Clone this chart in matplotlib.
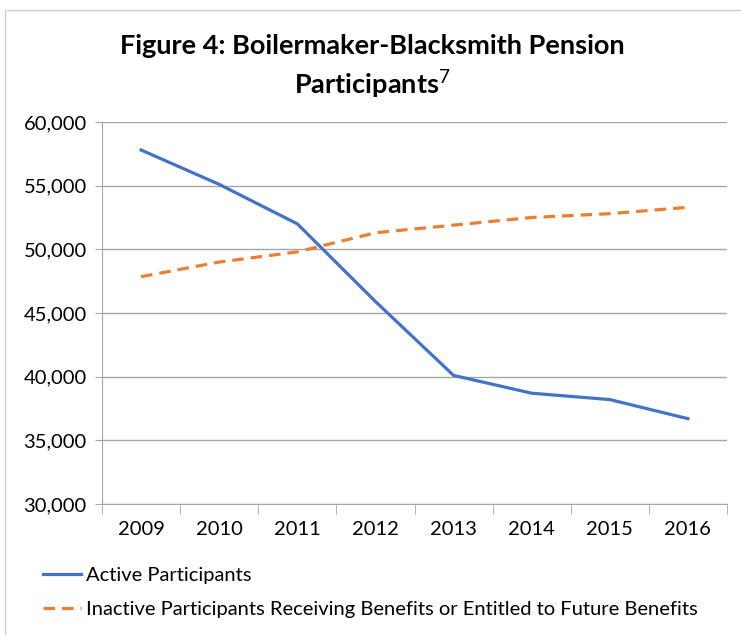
import numpy as np
import matplotlib.pyplot as plt
from matplotlib.patches import Rectangle

# Data
years = ["2009", "2010", "2011", "2012", "2013", "2014", "2015", "2016"]
active = [57800, 55100, 52000, 45900, 40100, 38700, 38200, 36700]
inactive = [47850, 49000, 49800, 51300, 51900, 52500, 52800, 53300]
yticks = [30000, 35000, 40000, 45000, 50000, 55000, 60000]

# Formatting
plt.rcParams["font.family"] = ["Lato", "DejaVu Sans"]
plt.rcParams["mathtext.fontset"] = "custom"
plt.rcParams["mathtext.rm"] = "Lato"

fig = plt.figure(figsize=(7.41, 6.35), dpi=100)
ax = fig.add_axes([0.1377, 0.2063, 0.8434, 0.6016])

x = np.arange(len(years))
ax.plot(x, active, color="#4472C4", lw=2.3, label="Active Participants")
ax.plot(x, inactive, color="#ED7D31", lw=2.3, ls=(0, (3.6, 2.2)),
        label="Inactive Participants Receiving Benefits or Entitled to Future Benefits")

ax.set_xlim(-0.5, len(years) - 0.5)
ax.set_ylim(30000, 60000)
ax.set_yticks(yticks)
ax.set_yticklabels([f"{v:,}" for v in yticks])
ax.set_xticks(x)
ax.set_xticklabels(years)
ax.set_xticks(np.arange(-0.5, len(years)), minor=True)
ax.tick_params(axis="x", which="major", length=0, pad=12, labelsize=14.5)
ax.tick_params(axis="x", which="minor", length=7, color="#A6A6A6")
ax.tick_params(axis="y", length=5, color="#A6A6A6", labelsize=14.5, pad=6)

ax.grid(axis="y", color="#A6A6A6", lw=1)
ax.set_axisbelow(True)
for s in ["top", "right"]:
    ax.spines[s].set_visible(False)
for s in ["left", "bottom"]:
    ax.spines[s].set_color("#A6A6A6")

fig.text(0.502, 0.928, "Figure 4: Boilermaker-Blacksmith Pension",
         ha="center", va="center", fontsize=19.5, fontweight="bold")
fig.text(0.502, 0.868, r"Participants$^{\mathrm{7}}$",
         ha="center", va="center", fontsize=19.5, fontweight="bold")

fig.legend(loc="upper left", bbox_to_anchor=(0.058, 0.107), frameon=False,
           fontsize=14.5, handlelength=1.9, handletextpad=0.25, labelspacing=0.85,
           borderaxespad=0, borderpad=0)

# chart border
fig.add_artist(Rectangle((5 / 741, -0.1), 1.2, 1.1 - 10 / 635,
                         transform=fig.transFigure, fill=False,
                         edgecolor="#D0D0D0", lw=1))

fig.savefig("out.png", dpi=100, facecolor="white")
